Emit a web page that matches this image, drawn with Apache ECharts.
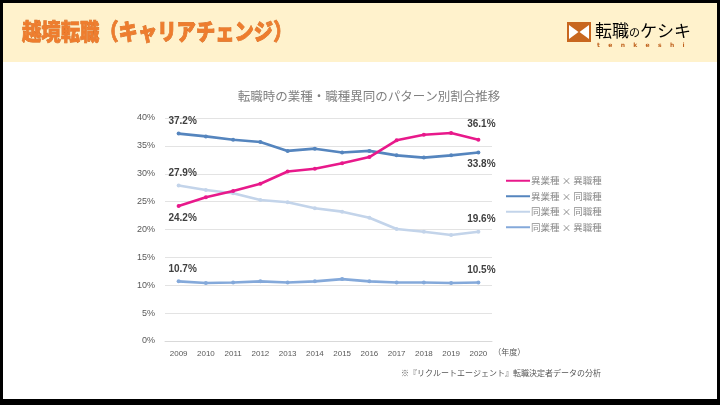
<!DOCTYPE html>
<html><head><meta charset="utf-8">
<script src="https://cdn.jsdelivr.net/npm/echarts@6/dist/echarts.min.js"></script>
<style>html,body{margin:0;padding:0;background:#000;}#c{width:720px;height:405px;}</style>
</head><body><div id="c"></div>
<script>
const years = ['2009','2010','2011','2012','2013','2014','2015','2016','2017','2018','2019','2020'];
const seriesNames = ['異業種 × 異職種','異業種 × 同職種','同業種 × 同職種','同業種 × 異職種'];
const diffIndDiffJob = [24.2,25.8,26.9,28.2,30.4,30.9,31.9,33.0,36.0,37.0,37.3,36.1];
const diffIndSameJob = [37.2,36.7,36.1,35.7,34.1,34.5,33.8,34.1,33.3,32.9,33.3,33.8];
const sameIndSameJob = [27.9,27.1,26.5,25.3,24.9,23.8,23.2,22.1,20.1,19.6,19.0,19.6];
const sameIndDiffJob = [10.7,10.4,10.5,10.7,10.5,10.7,11.1,10.7,10.5,10.5,10.4,10.5];
const yTicks = [0,5,10,15,20,25,30,35,40];

const allData = [diffIndDiffJob, diffIndSameJob, sameIndSameJob, sameIndDiffJob];
const colors = ['#E8198B','#5585BE','#C3D4EA','#84A9DA'];
const labelPos = [['bottom','top'],['top','bottom'],['top','top'],['top','top']];

const chart = echarts.init(document.getElementById('c'), null, {renderer:'canvas'});
const lblStyle = {fontFamily:'"Liberation Sans Narrow","Liberation Sans",sans-serif', fontWeight:'bold', fontSize:10, color:'#404040'};

const series = allData.map((arr, si) => ({
  name: seriesNames[si],
  type: 'line',
  symbol: 'circle',
  symbolSize: 4,
  lineStyle: {width: 2.6, color: colors[si]},
  itemStyle: {color: colors[si]},
  emphasis: {disabled: true},
  z: 10 - si,
  data: arr.map((v, i) => {
    const d = {value: v};
    if (i === 0 || i === arr.length - 1) {
      const pos = labelPos[si][i === 0 ? 0 : 1];
      d.label = Object.assign({show: true, position: pos, distance: (si === 0 && i > 0) ? 8 : 5,
        offset: [i === 0 ? 4 : 3, 0], formatter: v.toFixed(1) + '%'}, lblStyle);
    }
    return d;
  })
}));

chart.setOption({
  animation: false,
  backgroundColor: '#000',
  graphic: [
    {type:'rect', shape:{x:3,y:3,width:714,height:59}, style:{fill:'#FFF2CC'}, z:-10},
    {type:'rect', shape:{x:3,y:62,width:714,height:337}, style:{fill:'#FFFFFF'}, z:-10},
    {type:'text', x:22, y:31, scaleX:0.84, style:{text:'越境転職（キャリアチェンジ）', fill:'#EE7D2E', stroke:'#D0661C', lineWidth:0.7,
      font:'900 23px "Noto Sans CJK JP"', textVerticalAlign:'middle', textAlign:'left'}},
    {type:'rect', shape:{x:567,y:22,width:24,height:20}, style:{fill:'#C8671F'}},
    {type:'polygon', shape:{points:[[569,25],[578.5,32],[569,39]]}, style:{fill:'#FFFFFF'}},
    {type:'polygon', shape:{points:[[589,25],[579.5,32],[589,39]]}, style:{fill:'#FFFFFF'}},
    {type:'text', x:595, y:31, style:{text:'{a|転職}{b|の}{a|ケシキ}', textVerticalAlign:'middle',
      rich:{a:{font:'400 17px "Noto Sans CJK JP"', color:'#C0631F'}, b:{font:'400 11px "Noto Sans CJK JP"', color:'#C0631F', padding:[4,0,0,0]}}}},
    {type:'text', x:597, y:45, style:{text:'t    e    n    k    e    s    h    i', fill:'#C0631F', font:'bold 6px "DejaVu Sans"', textVerticalAlign:'middle'}},
    {type:'text', x:369, y:96, style:{text:'転職時の業種・職種異同のパターン別割合推移', fill:'#808080', font:'12.5px "Noto Sans CJK JP"', textAlign:'center', textVerticalAlign:'middle'}},
    {type:'text', x:601, y:373, style:{text:'※『リクルートエージェント』転職決定者データの分析', fill:'#555555', font:'8px "Noto Sans CJK JP"', textAlign:'right', textVerticalAlign:'middle'}}
  ],
  legend: {
    orient: 'vertical', left: 501, top: 171, itemGap: 6, itemWidth: 24, itemHeight: 10,
    icon: 'path://M0,4 L24,4 L24,6 L0,6 Z',
    textStyle: {color:'#8C8C8C', fontSize:9.5, fontFamily:'"Noto Sans CJK JP"', padding:[0,0,0,-4]},
    data: seriesNames
  },
  grid: {left:165, right:228, top:118, bottom:64},
  xAxis: {
    type:'category', data: years, boundaryGap: true,
    name:'（年度）', nameLocation:'end', nameGap: 0,
    nameTextStyle:{color:'#595959', fontSize:8, fontFamily:'"Noto Sans CJK JP"', verticalAlign:'top', padding:[7,0,0,0]},
    axisLine:{lineStyle:{color:'#D9D9D9'}}, axisTick:{show:false},
    axisLabel:{color:'#595959', fontSize:8, margin:9, fontFamily:'"Liberation Sans"'}
  },
  yAxis: {
    type:'value', min: yTicks[0], max: yTicks[yTicks.length-1], interval: 5,
    axisLine:{show:false}, axisTick:{show:false},
    splitLine:{lineStyle:{color:'#E3E3E3'}},
    axisLabel:{color:'#595959', fontSize:9, margin:10, formatter:'{value}%', fontFamily:'"Liberation Sans"'}
  },
  series: series
});
</script></body></html>
